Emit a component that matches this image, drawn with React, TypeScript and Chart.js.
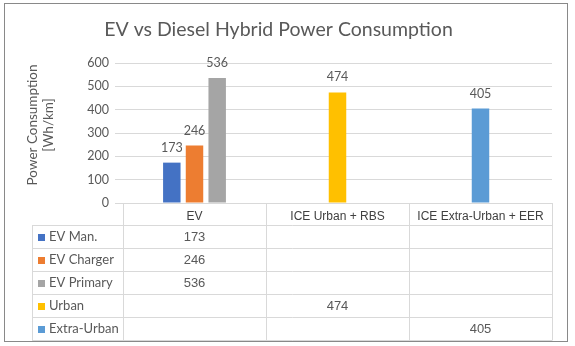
import React, { useEffect, useRef } from 'react';
import { Chart, registerables } from 'chart.js';

Chart.register(...registerables);

// ---- Data ----
const categories = ['EV', 'ICE Urban + RBS', 'ICE Extra-Urban + EER'];
const seriesNames = ['EV Man.', 'EV Charger', 'EV Primary', 'Urban', 'Extra-Urban'];
const evMan = [173, null, null];
const evCharger = [246, null, null];
const evPrimary = [536, null, null];
const urban = [null, 474, null];
const extraUrban = [null, null, 405];
const seriesValues = [evMan, evCharger, evPrimary, urban, extraUrban];
const yMin = 0;
const yMax = 600;
const yStep = 100;
const chartTitle = 'EV vs Diesel Hybrid Power Consumption';
const yTitle = ['Power Consumption', '[Wh/km]'];

// ---- Styles ----
const colors = ['#4472C4', '#ED7D31', '#A5A5A5', '#FFC000', '#5B9BD5'];
const textColor = '#595959';
const headerColor = '#404040';
const gridColor = '#D9D9D9';
const labelFont = 'Lato';

const dataLabelsPlugin = {
  id: 'dataLabels',
  afterDatasetsDraw(chart: any) {
    const { ctx } = chart;
    ctx.save();
    ctx.font = `12.5px ${labelFont}`;
    ctx.fillStyle = textColor;
    ctx.textAlign = 'center';
    ctx.textBaseline = 'middle';
    chart.data.datasets.forEach((ds: any, i: number) => {
      const meta = chart.getDatasetMeta(i);
      meta.data.forEach((el: any, j: number) => {
        const v = ds.data[j];
        if (v == null) return;
        ctx.fillText(String(v), el.x, el.y - 15);
      });
    });
    ctx.restore();
  },
};

const yTitlePlugin = {
  id: 'yTitle',
  afterDraw(chart: any) {
    const { ctx, chartArea } = chart;
    const y = chart.scales.y;
    const cy = (chartArea.top + chartArea.bottom) / 2 - 8;
    ctx.save();
    ctx.font = `13.5px ${labelFont}`;
    ctx.fillStyle = textColor;
    ctx.textAlign = 'center';
    ctx.textBaseline = 'middle';
    yTitle.forEach((line, i) => {
      ctx.save();
      ctx.translate(y.left + 28 + i * 15.6, cy);
      ctx.rotate(-Math.PI / 2);
      ctx.fillText(line, 0, 0);
      ctx.restore();
    });
    ctx.restore();
  },
};

const dataTablePlugin = {
  id: 'dataTable',
  afterDraw(chart: any) {
    const { ctx, chartArea } = chart;
    const x = chart.scales.x;
    const headerH = 22;
    const top = chartArea.bottom + headerH;
    const bottom = x.bottom;
    const n = chart.data.datasets.length;
    const rowH = (bottom - top) / n;
    const labelLeft = chartArea.left - 91;
    ctx.save();
    ctx.strokeStyle = gridColor;
    ctx.lineWidth = 1;
    ctx.beginPath();
    for (let r = 0; r <= n; r++) {
      const yy = Math.round(top + r * rowH) + 0.5;
      ctx.moveTo(labelLeft, yy);
      ctx.lineTo(x.right + 0.5, yy);
    }
    ctx.moveTo(labelLeft + 0.5, top);
    ctx.lineTo(labelLeft + 0.5, Math.round(bottom) + 0.5);
    ctx.stroke();

    chart.data.datasets.forEach((ds: any, i: number) => {
      const yc = top + (i + 0.5) * rowH + 0.5;
      ctx.fillStyle = ds.backgroundColor;
      ctx.fillRect(labelLeft + 6, Math.round(yc - 3.5), 7, 7);
      ctx.fillStyle = textColor;
      ctx.font = `13px ${labelFont}`;
      ctx.textAlign = 'left';
      ctx.textBaseline = 'middle';
      ctx.fillText(ds.label, labelLeft + 17, yc);
      ctx.font = '13px "Liberation Sans"';
      ctx.textAlign = 'center';
      ds.data.forEach((v: any, j: number) => {
        if (v == null) return;
        ctx.fillText(String(v), x.getPixelForValue(j), yc);
      });
    });

    ctx.strokeStyle = '#898989';
    ctx.strokeRect(4.5, 3.5, 563, 338);
    ctx.restore();
  },
};

export default function App() {
  const canvasRef = useRef<HTMLCanvasElement | null>(null);

  useEffect(() => {
    document.body.style.margin = '0';
    const canvas = canvasRef.current;
    if (!canvas) return;
    const chart = new Chart(canvas, {
      type: 'bar',
      data: {
        labels: categories,
        datasets: seriesNames.map((name, i) => ({
          label: name,
          data: seriesValues[i],
          backgroundColor: colors[i],
          borderWidth: 0,
          categoryPercentage: 0.476,
          barPercentage: 0.77,
          maxBarThickness: 17.5,
          skipNull: true,
        })),
      },
      options: {
        animation: false,
        responsive: true,
        maintainAspectRatio: false,
        layout: { padding: { left: 5, right: 23, top: 0, bottom: 6 } },
        plugins: {
          legend: { display: false },
          tooltip: { enabled: false },
          title: {
            display: true,
            text: chartTitle,
            color: textColor,
            font: { family: labelFont, size: 19.5, weight: 'normal', lineHeight: 1.2 },
            padding: { top: 18.3, bottom: 21.3 },
          },
        },
        scales: {
          x: {
            offset: true,
            grid: {
              display: true,
              drawOnChartArea: false,
              drawTicks: true,
              tickLength: 137,
              color: gridColor,
              offset: true,
            },
            border: { display: true, color: gridColor },
            ticks: {
              color: headerColor,
              font: { family: 'Liberation Sans', size: 12, lineHeight: 1.2 },
              padding: -130.7,
              autoSkip: false,
              maxRotation: 0,
              minRotation: 0,
            },
            afterFit: (scale: any) => {
              scale.height = 137;
            },
          },
          y: {
            min: yMin,
            max: yMax,
            ticks: {
              stepSize: yStep,
              color: textColor,
              font: { family: labelFont, size: 12.5 },
              padding: 6,
            },
            grid: { color: gridColor, tickLength: 8, drawTicks: true },
            border: { display: false },
            title: { display: false },
            afterFit: (scale: any) => {
              scale.width = 118;
            },
          },
        },
      },
      plugins: [dataLabelsPlugin, yTitlePlugin, dataTablePlugin],
    });
    return () => chart.destroy();
  }, []);

  return (
    <div style={{ position: 'relative', width: 575, height: 346 }}>
      <canvas ref={canvasRef} />
    </div>
  );
}
